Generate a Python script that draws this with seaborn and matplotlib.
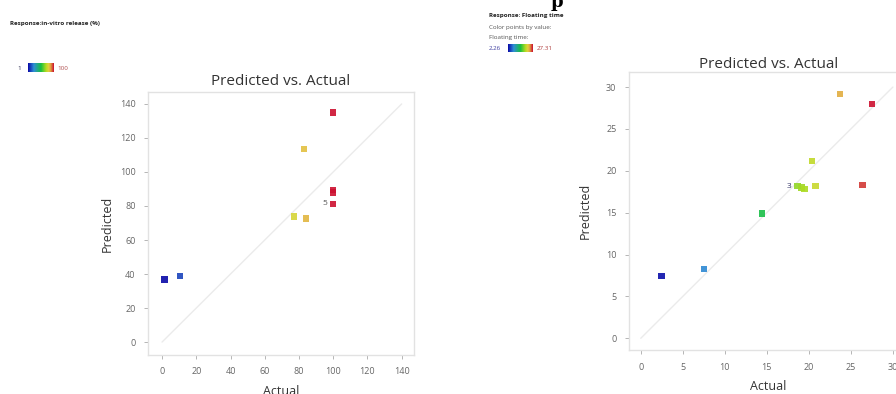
import numpy as np
import pandas as pd
import matplotlib
matplotlib.use("Agg")
import matplotlib.pyplot as plt
from matplotlib.colors import LinearSegmentedColormap, Normalize
import seaborn as sns

sns.set_theme(style="white")
plt.rcParams['font.family'] = ['Open Sans', 'DejaVu Sans']

# ---- data: in-vitro release (%) ----
rel_actual = [1.3, 10.5, 77, 84.2, 82.8, 99.9, 99.9, 99.9, 99.9]
rel_pred = [36.9, 38.8, 73.7, 72.5, 113.4, 135.1, 89.4, 87.8, 81.2]
rel_ticks = [0, 20, 40, 60, 80, 100, 120, 140]

# ---- data: floating time ----
ft_actual = [2.46, 7.5, 14.4, 18.65, 19.1, 19.5, 20.8, 20.4, 23.7, 27.5, 26.4]
ft_pred = [7.46, 8.26, 14.9, 18.2, 18.0, 17.8, 18.2, 21.2, 29.2, 28.0, 18.3]
ft_ticks = [0, 5, 10, 15, 20, 25, 30]

cmap = LinearSegmentedColormap.from_list(
    "de", [(0.0, "#0a0aa8"), (0.22, "#2f8fd6"), (0.5, "#18c040"),
           (0.7, "#b4dc20"), (0.8, "#e4d040"), (0.88, "#e0a040"),
           (1.0, "#cc1030")])

fig = plt.figure(figsize=(8.96, 3.94), dpi=100)
W, H = 896, 394


def ax_at(l, t, r, b):
    return fig.add_axes([l / W, 1 - b / H, (r - l) / W, (b - t) / H])


def style(ax, ticks):
    for s in ax.spines.values():
        s.set_color("#e2e2e2")
        s.set_linewidth(1.0)
    ax.set_xticks(ticks)
    ax.set_yticks(ticks)
    ax.tick_params(axis="both", which="both", direction="out", length=3,
                   width=0.6, color="#aaaaaa", labelcolor="#666666",
                   labelsize=6.5, pad=6, bottom=True, left=True)


# ---- left panel ----
ax1 = ax_at(148, 92, 414, 355)
ax1.plot([0, 140], [0, 140], color="#ebebeb", lw=1.0, zorder=1)
df1 = pd.DataFrame({"Actual": rel_actual, "Predicted": rel_pred})
sns.scatterplot(data=df1, x="Actual", y="Predicted", hue="Actual",
                palette=cmap, hue_norm=Normalize(1, 100), marker="s", s=22,
                edgecolor="none", alpha=0.9, legend=False, ax=ax1, zorder=3)
ax1.set_xlim(-8.2, 147.2)
ax1.set_ylim(-7.6, 147)
style(ax1, rel_ticks)
ax1.set_title("Predicted vs. Actual", fontsize=11, color="#333333", pad=5)
ax1.set_xlabel("Actual", fontsize=9, color="#333333", labelpad=6)
ax1.set_ylabel("Predicted", fontsize=9, color="#333333", labelpad=4)
ax1.text(95.1, 81.2, "5", fontsize=6, color="#555555", ha="center", va="center")

# ---- right panel ----
ax2 = ax_at(629, 72, 908, 350)
ax2.plot([0, 30], [0, 30], color="#ebebeb", lw=1.0, zorder=1)
df2 = pd.DataFrame({"Actual": ft_actual, "Predicted": ft_pred})
sns.scatterplot(data=df2, x="Actual", y="Predicted", hue="Actual",
                palette=cmap, hue_norm=Normalize(2.26, 27.31), marker="s",
                s=22, edgecolor="none", alpha=0.9, legend=False, ax=ax2,
                zorder=3)
ax2.set_xlim(-1.4, 31.8)
ax2.set_ylim(-1.4, 31.8)
style(ax2, ft_ticks)
ax2.set_title("Predicted vs. Actual", fontsize=11, color="#333333", pad=3)
ax2.set_xlabel("Actual", fontsize=9, color="#333333", labelpad=6)
ax2.set_ylabel("Predicted", fontsize=9, color="#333333", labelpad=10)
ax2.text(17.6, 18.1, "3", fontsize=6, color="#333366", ha="center", va="center")

# ---- header texts and colour keys ----
grad = np.linspace(0, 1, 64).reshape(1, -1)

fig.text(10 / W, 1 - 23 / H, "Response:in-vitro release (%)", fontsize=4.5,
         fontweight="bold", color="#222222", va="center")
cb1 = ax_at(28, 63, 53, 72)
cb1.imshow(grad, aspect="auto", cmap=cmap)
cb1.axis("off")
fig.text(17 / W, 1 - 68 / H, "1", fontsize=4.5, color="#333355", va="center")
fig.text(57 / W, 1 - 68 / H, "100", fontsize=4.5, color="#b05050", va="center")

fig.text(489 / W, 1 - 15 / H, "Response: Floating time", fontsize=4.5,
         fontweight="bold", color="#222222", va="center")
fig.text(489 / W, 1 - 27 / H, "Color points by value:", fontsize=4.5,
         color="#555555", va="center")
fig.text(489 / W, 1 - 37 / H, "Floating time:", fontsize=4.5,
         color="#555555", va="center")
cb2 = ax_at(508, 44, 533, 52)
cb2.imshow(grad, aspect="auto", cmap=cmap)
cb2.axis("off")
fig.text(489 / W, 1 - 48 / H, "2.26", fontsize=4.5, color="#4040a0", va="center")
fig.text(537 / W, 1 - 48 / H, "27.31", fontsize=4.5, color="#b04040", va="center")

fig.text(557 / W, 1 + 7 / H, "p", fontsize=13, family="DejaVu Serif",
         fontweight="bold", color="black", ha="center", va="top")

fig.savefig("out.png", dpi=100)
